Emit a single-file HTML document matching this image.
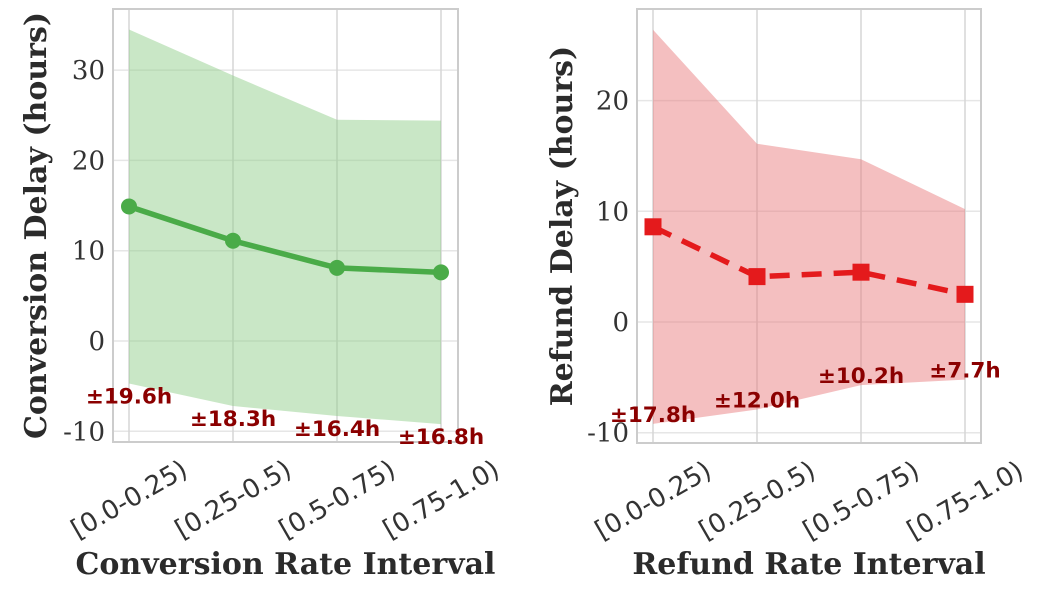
<!DOCTYPE html>
<html><head><meta charset="utf-8"><style>
body{margin:0;background:#fff;}
svg text{font-family:"DejaVu Serif","Liberation Serif",serif;}
.sans{font-family:"DejaVu Sans","Liberation Sans",sans-serif;}
</style></head><body>
<svg id="chart" width="1042" height="610" xmlns="http://www.w3.org/2000/svg"></svg>
<script>
const categories = ["[0.0-0.25)","[0.25-0.5)","[0.5-0.75)","[0.75-1.0)"];
const convMean = [14.9, 11.1, 8.1, 7.6];
const convStd = [19.6, 18.3, 16.4, 16.8];
const refundMean = [8.6, 4.1, 4.5, 2.5];
const refundStd = [17.8, 12.0, 10.2, 7.7];
const convTicks = [-10, 0, 10, 20, 30];
const refundTicks = [-10, 0, 10, 20];

const svg = document.getElementById('chart');
const NS = 'http://www.w3.org/2000/svg';
function mk(tag, attrs, parent){
  const e = document.createElementNS(NS, tag);
  for (const k in attrs) e.setAttribute(k, attrs[k]);
  (parent||svg).appendChild(e);
  return e;
}

function panel(cfg){
  const g = mk('g', {});
  
  
  const xs = i => cfg.x0 + i * cfg.dx;
  const ys = v => cfg.y0 - v * cfg.ky;
  cfg.ticks.forEach(t => {
    const l = mk('line', {x1:cfg.left, x2:cfg.right, y1:ys(t), y2:ys(t), stroke:'#e6e6e6', 'stroke-width':1.5}, g);
    
    
    const tx = mk('text', {x:cfg.left-8, y:ys(t)+9, 'text-anchor':'end', 'font-size':26, fill:'#333'}, g);
    tx.textContent = t;
    
    
  });
  categories.forEach((c,i) => {
    const l = mk('line', {x1:xs(i), x2:xs(i), y1:cfg.top, y2:cfg.bottom, stroke:'#d6d6d6', 'stroke-width':1.5}, g);
    
    
    const cx = xs(i), cy = cfg.bottom + 57;
    const tx = mk('text', {x:cx, y:cy+9, 'text-anchor':'middle', 'font-size':26, fill:'#333', class:'sans', transform:`rotate(-30 ${cx} ${cy})`}, g);
    tx.textContent = c;
    
    
  });
  const up = cfg.mean.map((m,i)=>`${xs(i)},${ys(m+cfg.std[i])}`);
  const lo = cfg.mean.map((m,i)=>`${xs(i)},${ys(m-cfg.std[i])}`).reverse();
  const band = mk('polygon', {points: up.concat(lo).join(' '), fill:cfg.band, 'fill-opacity':0.48}, g);
  
  
  const fr = mk('rect', {x:cfg.left, y:cfg.top, width:cfg.right-cfg.left, height:cfg.bottom-cfg.top, fill:'none', stroke:'#cccccc', 'stroke-width':2}, g);
  
  
  const line = mk('polyline', {points: cfg.mean.map((m,i)=>`${xs(i)},${ys(m)}`).join(' '), fill:'none', stroke:cfg.color, 'stroke-width':5.5, 'stroke-dasharray':cfg.dash||'none'}, g);
  
  
  cfg.mean.forEach((m,i) => {
    let p;
    if (cfg.square) p = mk('rect', {x:xs(i)-8.5, y:ys(m)-8.5, width:17, height:17, fill:cfg.color}, g);
    else p = mk('circle', {cx:xs(i), cy:ys(m), r:8, fill:cfg.color}, g);
    
    
  });
  cfg.mean.forEach((m,i) => {
    const a = mk('text', {x:xs(i), y:ys(m-cfg.std[i]) + cfg.annOff, 'text-anchor':'middle', 'font-size':21.5, 'font-weight':'bold', fill:'#8b0000', class:'sans'}, g);
    a.textContent = '±' + cfg.std[i].toFixed(1) + 'h';
    
    
  });
  const xt = mk('text', {x:(cfg.left+cfg.right)/2, y:574, 'text-anchor':'middle', 'font-size':30, 'font-weight':'bold', fill:'#2b2b2b'}, g);
  xt.textContent = cfg.xtitle;
  
  
  const ty = (cfg.top+cfg.bottom)/2;
  const yt = mk('text', {x:cfg.ytx, y:ty, 'text-anchor':'middle', 'font-size':30, 'font-weight':'bold', fill:'#2b2b2b', transform:`rotate(-90 ${cfg.ytx} ${ty})`}, g);
  yt.textContent = cfg.ytitle;
  
  
}

panel({name:'conversion-panel', left:113, right:458, top:9, bottom:442, x0:129, dx:104, y0:341, ky:9.03,
  ticks:convTicks, mean:convMean, std:convStd, band:'#8fcc88', color:'#4aab48', annOff:20,
  xtitle:'Conversion Rate Interval', ytitle:'Conversion Delay (hours)', ytx:46});
panel({name:'refund-panel', left:637, right:981, top:9, bottom:443, x0:653, dx:104, y0:322, ky:11.07,
  ticks:refundTicks, mean:refundMean, std:refundStd, band:'#e87a7c', color:'#e41a1c', annOff:-2, square:true, dash:'20 12',
  xtitle:'Refund Rate Interval', ytitle:'Refund Delay (hours)', ytx:572});
</script>
</body></html>
